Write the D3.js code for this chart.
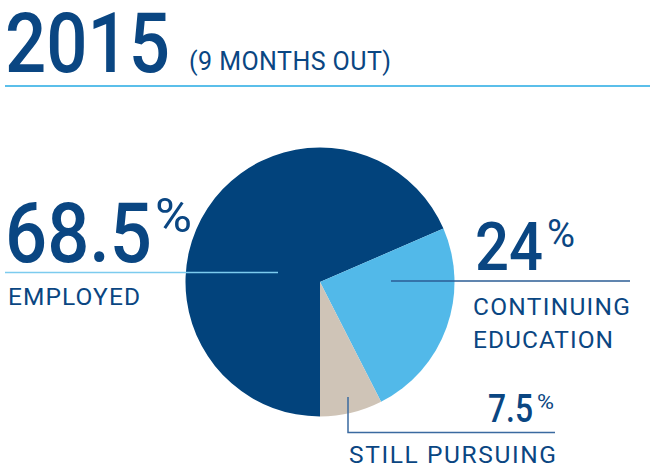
<!DOCTYPE html>
<html>
<head>
<meta charset="utf-8">
<script src="https://cdn.jsdelivr.net/npm/d3@7"></script>
<style>
  html, body { margin: 0; padding: 0; background: #fff; }
  svg { display: block; }
  text { font-family: Roboto, "Noto Sans", sans-serif; }
</style>
</head>
<body>
<svg id="chart" width="650" height="471"></svg>
<script>
// ---- data ----
const titleYear = "2015";
const titleSub = "(9 MONTHS OUT)";
const categories = ["EMPLOYED", "CONTINUING EDUCATION", "STILL PURSUING"];
const values = [68.5, 24, 7.5];
const valueLabels = ["68.5", "24", "7.5"];
const colors = ["#02437c", "#52b9e9", "#cfc4b7"];

const textColor = "#0a4682";
const svg = d3.select("#chart");

// ---- title ----
svg.append("text").attr("x", 5).attr("y", 72)
  .attr("font-size", 84).attr("font-weight", 500).attr("fill", textColor)
  .attr("textLength", 165).attr("lengthAdjust", "spacingAndGlyphs")
  .text(titleYear);
svg.append("text").attr("x", 189).attr("y", 70)
  .attr("font-size", 25).attr("font-weight", 400).attr("fill", textColor)
  .attr("textLength", 202).attr("lengthAdjust", "spacing")
  .text(titleSub);
svg.append("line").attr("x1", 5).attr("x2", 650).attr("y1", 86).attr("y2", 86)
  .attr("stroke", "#5bbfea").attr("stroke-width", 2);

// ---- pie ----
const cx = 320, cy = 282, r = 134.5;
const pie = d3.pie().sort(null).startAngle(Math.PI).endAngle(3 * Math.PI);
const arc = d3.arc().innerRadius(0).outerRadius(r);
const g = svg.append("g").attr("transform", `translate(${cx},${cy})`);
g.selectAll("path").data(pie(values)).join("path")
  .attr("d", arc)
  .attr("fill", (d, i) => colors[i]);

// ---- labels ----
function bigNum(x, y, size, len, txt, px, py, psize, plen) {
  svg.append("text").attr("x", x).attr("y", y)
    .attr("font-size", size).attr("font-weight", 500).attr("fill", textColor)
    .attr("textLength", len).attr("lengthAdjust", "spacingAndGlyphs")
    .text(txt);
  svg.append("text").attr("x", px).attr("y", py)
    .attr("font-size", psize).attr("font-weight", 400).attr("fill", textColor)
    .attr("textLength", plen).attr("lengthAdjust", "spacingAndGlyphs")
    .text("%");
}
function label(x, y, len, txt) {
  svg.append("text").attr("x", x).attr("y", y)
    .attr("font-size", 24.5).attr("font-weight", 400).attr("fill", textColor)
    .attr("textLength", len).attr("lengthAdjust", "spacing")
    .text(txt);
}

// Employed
bigNum(5, 262, 84, 147, valueLabels[0], 155, 232, 48, 37);
svg.append("line").attr("x1", 5).attr("x2", 278).attr("y1", 272.5).attr("y2", 272.5)
  .attr("stroke", "#7ccbee").attr("stroke-width", 1.5);
label(8, 305, 132, categories[0]);

// Continuing education
bigNum(475, 270, 66, 68, valueLabels[1], 547, 247, 38, 28);
svg.append("line").attr("x1", 391).attr("x2", 630).attr("y1", 281).attr("y2", 281)
  .attr("stroke", "#2b5d95").attr("stroke-width", 1.5);
const ce = categories[1].split(" ");
label(473, 315, 157, ce[0]);
label(473, 348, 140, ce[1]);

// Still pursuing
bigNum(488, 422, 38.5, 45, valueLabels[2], 537, 409, 21, 17);
svg.append("path").attr("d", "M348,397 L348,432.5 L555,432.5")
  .attr("fill", "none").attr("stroke", "#3a6aa0").attr("stroke-width", 1.5);
label(349, 463, 207, categories[2]);
</script>
</body>
</html>
